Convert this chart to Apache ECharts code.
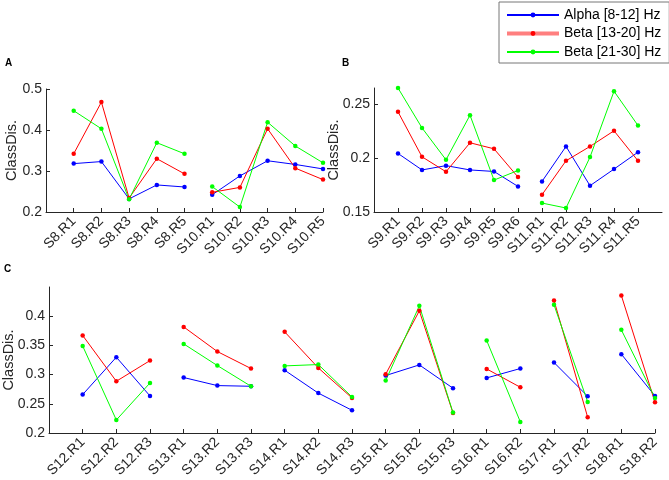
<!DOCTYPE html>
<html>
<head>
<meta charset="utf-8">
<script src="https://cdn.jsdelivr.net/npm/echarts@6/dist/echarts.min.js"></script>
<style>
html,body{margin:0;padding:0;background:#fff;}
#chart{width:669px;height:480px;}
</style>
</head>
<body>
<div id="chart"></div>
<script>
// ---------- data ----------
const bandNames = ['Alpha [8-12] Hz', 'Beta [13-20] Hz', 'Beta [21-30] Hz'];
const bandColors = ['#0000ff', '#ff0000', '#00ff00'];

// Panel A
const catsA = ['S8.R1','S8.R2','S8.R3','S8.R4','S8.R5','S10.R1','S10.R2','S10.R3','S10.R4','S10.R5'];
const groupsA = [5, 5];
const alphaA = [0.318, 0.323, 0.232, 0.266, 0.261, 0.242, 0.288, 0.325, 0.316, 0.305];
const beta1A = [0.342, 0.468, 0.234, 0.330, 0.293, 0.248, 0.260, 0.403, 0.307, 0.279];
const beta2A = [0.447, 0.403, 0.231, 0.369, 0.342, 0.262, 0.212, 0.419, 0.361, 0.320];
const yTicksA = [0.2, 0.3, 0.4, 0.5];

// Panel B
const catsB = ['S9.R1','S9.R2','S9.R3','S9.R4','S9.R5','S9.R6','S11.R1','S11.R2','S11.R3','S11.R4','S11.R5'];
const groupsB = [6, 5];
const alphaB = [0.2043, 0.189, 0.193, 0.189, 0.1876, 0.1737, 0.1784, 0.2108, 0.1744, 0.1898, 0.2055];
const beta1B = [0.2429, 0.2012, 0.1873, 0.2142, 0.2086, 0.1824, 0.166, 0.1975, 0.2108, 0.2253, 0.1975];
const beta2B = [0.265, 0.228, 0.1984, 0.2398, 0.1796, 0.1885, 0.1583, 0.1537, 0.2009, 0.262, 0.2302];
const yTicksB = [0.15, 0.2, 0.25];

// Panel C
const catsC = ['S12.R1','S12.R2','S12.R3','S13.R1','S13.R2','S13.R3','S14.R1','S14.R2','S14.R3',
               'S15.R1','S15.R2','S15.R3','S16.R1','S16.R2','S17.R1','S17.R2','S18.R1','S18.R2'];
const groupsC = [3, 3, 3, 3, 2, 2, 2];
const alphaC = [0.2658, 0.3298, 0.2634, 0.295, 0.2812, 0.280, 0.3075, 0.2683, 0.2389,
                0.2984, 0.3166, 0.2767, 0.2943, 0.3104, 0.3207, 0.2629, 0.335, 0.2634];
const beta1C = [0.367, 0.2886, 0.324, 0.3817, 0.3395, 0.3104, 0.3732, 0.3114, 0.260,
                0.3006, 0.4092, 0.2343, 0.3097, 0.2783, 0.427, 0.227, 0.4355, 0.2526];
const beta2C = [0.349, 0.2223, 0.2857, 0.3526, 0.3155, 0.280, 0.3149, 0.3172, 0.2617,
                0.2898, 0.4177, 0.2349, 0.3584, 0.219, 0.4195, 0.2532, 0.3766, 0.260];
const yTicksC = [0.2, 0.25, 0.3, 0.35, 0.4];

// ---------- build ----------
const FONT = '"Liberation Sans", Arial, Helvetica, sans-serif';
const AXC = '#262626';

const panels = [
  { cats: catsA, groups: groupsA, vals: [alphaA, beta1A, beta2A], ymin: 0.2, ymax: 0.5, yt: yTicksA, xmax: 10,
    grid: { left: 46, top: 89, width: 277, height: 123 }, nameGap: 26.5 },
  { cats: catsB, groups: groupsB, vals: [alphaB, beta1B, beta2B], ymin: 0.15, ymax: 0.265, yt: yTicksB, xmax: 12,
    grid: { left: 374, top: 88, width: 288, height: 124 }, nameGap: 32.5 },
  { cats: catsC, groups: groupsC, vals: [alphaC, beta1C, beta2C], ymin: 0.2, ymax: 0.45, yt: yTicksC, xmax: 18,
    grid: { left: 49, top: 287, width: 606, height: 146 }, nameGap: 33 }
];

const grids = [], xAxes = [], yAxes = [], series = [];
panels.forEach((p, pi) => {
  grids.push(Object.assign({ containLabel: false, outerBoundsMode: 'none' }, p.grid));
  const ticks = p.cats.map((c, i) => i + 1);
  xAxes.push({
    type: 'value', gridIndex: pi, min: 0, max: p.xmax,
    axisLine: { show: true, lineStyle: { color: AXC, width: 1 } },
    axisTick: { show: true, inside: true, length: 4, customValues: ticks, lineStyle: { color: AXC } },
    axisLabel: { show: true, customValues: ticks, rotate: 45, margin: 7, fontSize: 14, fontFamily: FONT, color: AXC,
      formatter: v => p.cats[Math.round(v) - 1] || '' },
    splitLine: { show: false }
  });
  yAxes.push({
    type: 'value', gridIndex: pi, min: p.ymin, max: p.ymax,
    name: 'ClassDis.', nameLocation: 'middle', nameGap: p.nameGap, nameMoveOverlap: false,
    nameTextStyle: { fontSize: 14.5, fontFamily: FONT, color: AXC },
    axisLine: { show: true, lineStyle: { color: AXC, width: 1 } },
    axisTick: { show: true, inside: true, length: 4, customValues: p.yt, lineStyle: { color: AXC } },
    axisLabel: { show: true, customValues: p.yt, margin: 4, fontSize: 14, fontFamily: FONT, color: AXC,
      formatter: v => String(+v.toFixed(3)) },
    splitLine: { show: false }
  });
  let start = 0;
  p.groups.forEach(gs => {
    p.vals.forEach((arr, bi) => {
      const data = [];
      for (let i = start; i < start + gs; i++) data.push([i + 1, arr[i]]);
      series.push({
        name: bandNames[bi], type: 'line', xAxisIndex: pi, yAxisIndex: pi,
        data: data, symbol: 'circle', symbolSize: 4.5, showSymbol: true,
        lineStyle: { color: bandColors[bi], width: 1 },
        itemStyle: { color: bandColors[bi] },
        emphasis: { disabled: true }, silent: true, clip: false
      });
    });
    start += gs;
  });
});

const option = {
  animation: false,
  backgroundColor: '#fff',
  textStyle: { fontFamily: FONT },
  grid: grids, xAxis: xAxes, yAxis: yAxes, series: series,
  legend: {
    orient: 'vertical', left: 499, top: 2,
    padding: [6, 8, 4, 6], itemGap: 4.5, itemWidth: 52, itemHeight: 6,
    borderColor: '#777', borderWidth: 1, backgroundColor: '#fff', borderRadius: 0,
    textStyle: { fontSize: 14, fontFamily: FONT, color: '#000' },
    selectedMode: false,
    data: [
      { name: bandNames[0] },
      { name: bandNames[1], lineStyle: { color: '#ff7f7f', width: 4 } },
      { name: bandNames[2] }
    ]
  },
  graphic: [
    { type: 'text', left: 5, top: 58, style: { text: 'A', font: 'bold 10px ' + FONT, fill: '#000' } },
    { type: 'text', left: 342, top: 58, style: { text: 'B', font: 'bold 10px ' + FONT, fill: '#000' } },
    { type: 'text', left: 4, top: 264, style: { text: 'C', font: 'bold 10px ' + FONT, fill: '#000' } }
  ]
};
const chart = echarts.init(document.getElementById('chart'), null, { renderer: 'canvas' });
chart.setOption(option);
</script>
</body>
</html>
